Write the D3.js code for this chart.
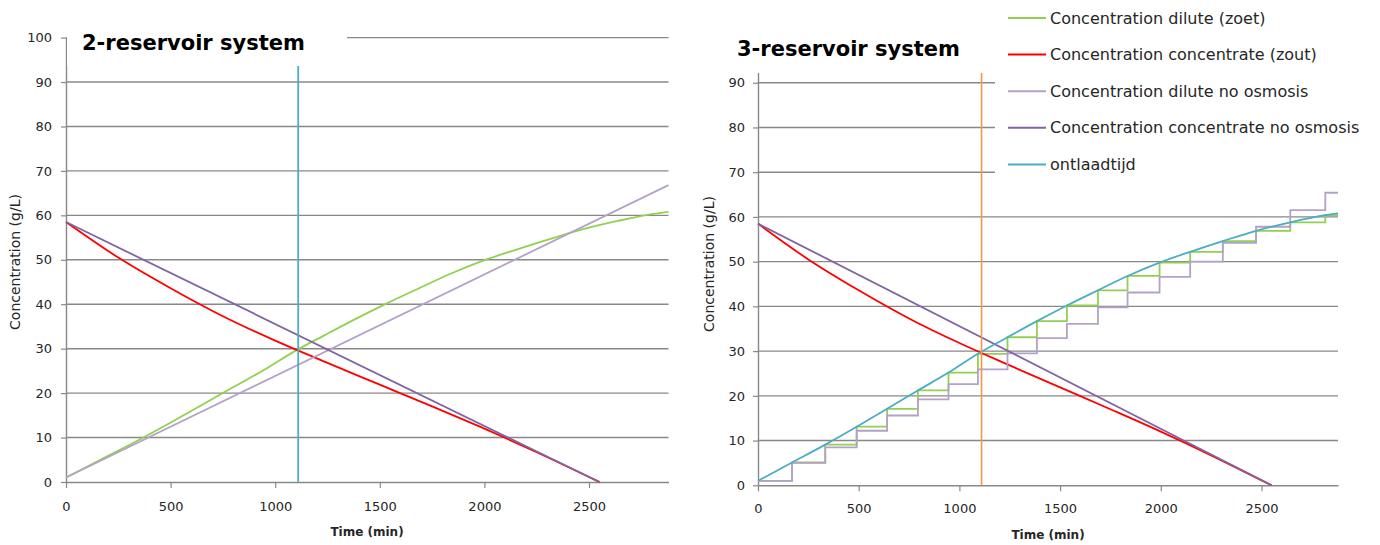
<!DOCTYPE html>
<html>
<head>
<meta charset="utf-8">
<script src="https://cdn.jsdelivr.net/npm/d3@7"></script>
<style>
  body { margin: 0; background: #fff; }
  svg { display: block; }
</style>
</head>
<body>
<div id="chart"></div>
<script>
// ticks
const xTicks = [0, 500, 1000, 1500, 2000, 2500];
const yTicks = [0, 10, 20, 30, 40, 50, 60, 70, 80, 90, 100];
const tMax = 2880;
const dischargeTime = 1110;

// concentrate with osmosis (red)
const concTime  = [0, 250, 500, 750, 1000, 1250, 1500, 1750, 2000, 2250, 2550];
const concValue = [58.5, 50.5, 43.6, 37.3, 31.8, 26.8, 21.9, 17.0, 12.0, 6.7, 0];

// concentrate no osmosis (dark purple)
const concNoOsmTime  = [0, 2550];
const concNoOsmValue = [58.5, 0];

// dilute no osmosis (light purple, 2-reservoir)
const dilNoOsmTime  = [0, 2880];
const dilNoOsmValue = [1.0, 66.8];

// dilute with osmosis, continuous (green left, teal right)
const dilTime  = [0, 169, 334, 490, 641, 794, 946, 1092, 1239, 1385, 1534, 1688, 1835, 1994, 2146, 2308, 2473, 2643, 2817, 2880];
const dilValue = [1.0, 5.1, 9.1, 13.1, 17.1, 21.2, 25.2, 29.4, 33.1, 36.7, 40.2, 43.6, 46.8, 49.8, 52.2, 54.6, 56.9, 58.8, 60.4, 60.8];

// 3-reservoir batches
const stepTime      = [0, 169, 334, 490, 641, 794, 946, 1092, 1239, 1385, 1534, 1688, 1835, 1994, 2146, 2308, 2473, 2643, 2817];
const stepDilute    = [1.0, 5.1, 9.1, 13.1, 17.1, 21.2, 25.2, 29.4, 33.1, 36.7, 40.2, 43.6, 46.8, 49.8, 52.2, 54.6, 56.9, 58.8, 60.4];
const stepDilNoOsm  = [1.0, 5.0, 8.5, 12.2, 15.6, 19.2, 22.6, 25.9, 29.5, 32.9, 36.1, 39.8, 43.1, 46.6, 50.0, 54.2, 57.8, 61.5, 65.4];

const legendLabels = [
  "Concentration dilute (zoet)",
  "Concentration concentrate (zout)",
  "Concentration dilute no osmosis",
  "Concentration concentrate no osmosis",
  "ontlaadtijd"
];
const titles = ["2-reservoir system", "3-reservoir system"];

const colors = {
  green: "#92d050", red: "#ff0000", lilac: "#b3a2c7",
  purple: "#8064a2", teal: "#4bacc6", orange: "#f79646",
  grid: "#888888", text: "#262626"
};
const legendColors = [colors.green, colors.red, colors.lilac, colors.purple, colors.teal];
const FONT = "'DejaVu Sans', sans-serif";

const svg = d3.select("#chart").append("svg")
  .attr("width", 1380).attr("height", 545)
  .attr("font-family", FONT);

const zip = (a, b) => a.map((t, i) => [t, b[i]]);

function panel(p) {
  const x = d3.scaleLinear().domain([0, tMax]).range([p.left, p.right]);
  const y = d3.scaleLinear().domain([0, 100]).range([p.bottom, p.top]);
  const g = svg.append("g");

  // horizontal gridlines
  g.append("g").selectAll("line")
    .data(p.yTicks.filter(d => d > 0))
    .join("line")
      .attr("x1", p.left).attr("x2", p.right)
      .attr("y1", d => y(d)).attr("y2", d => y(d))
      .attr("stroke", colors.grid).attr("stroke-width", 1.4);

  const styleAxis = ax => {
    ax.attr("font-family", FONT).attr("font-size", 13);
    ax.select(".domain").attr("stroke", colors.grid).attr("stroke-width", 1.4);
    ax.selectAll(".tick line").attr("stroke", colors.grid).attr("stroke-width", 1.2);
    ax.selectAll(".tick text").attr("fill", colors.text);
  };

  g.append("g")
    .attr("transform", `translate(${p.left},0)`)
    .call(d3.axisLeft(y).tickValues(p.yTicks).tickFormat(d3.format("d"))
      .tickSize(5).tickSizeOuter(0).tickPadding(p.yPad))
    .call(styleAxis);

  g.append("g")
    .attr("transform", `translate(0,${p.bottom})`)
    .call(d3.axisBottom(x).tickValues(xTicks).tickFormat(d3.format("d"))
      .tickSize(6).tickSizeOuter(0).tickPadding(p.xPad))
    .call(styleAxis);

  // axis titles
  g.append("text")
    .attr("transform", `translate(${p.yTitleX},${p.yTitleY}) rotate(-90)`)
    .attr("text-anchor", "middle")
    .attr("font-size", 14).attr("fill", colors.text)
    .text("Concentration (g/L)");

  g.append("text")
    .attr("x", p.xTitleX).attr("y", p.xTitleY)
    .attr("text-anchor", "middle")
    .attr("font-size", 12).attr("font-weight", "bold").attr("fill", colors.text)
    .text("Time (min)");

  const line = d3.line().x(d => x(d[0])).y(d => y(d[1]));
  const stepLine = d3.line().x(d => x(d[0])).y(d => y(d[1])).curve(d3.curveStepAfter);
  const smooth = d3.line().x(d => x(d[0])).y(d => y(d[1])).curve(d3.curveMonotoneX);
  return { x, y, g, line, stepLine, smooth };
}

const draw = (g, gen, data, color, w) =>
  g.append("path").datum(data).attr("d", gen)
    .attr("fill", "none").attr("stroke", color).attr("stroke-width", w || 1.8);

// ---- 2-reservoir ----
const L = panel({ left: 66, right: 668.5, bottom: 482, top: 37.6, yPad: 9, xPad: 14, yTicks: yTicks,
                  yTitleX: 20, yTitleY: 262, xTitleX: 367, xTitleY: 536 });
draw(L.g, L.smooth, zip(dilTime, dilValue), colors.green);
draw(L.g, L.smooth, zip(concTime, concValue), colors.red);
draw(L.g, L.line, zip(dilNoOsmTime, dilNoOsmValue), colors.lilac);
draw(L.g, L.line, zip(concNoOsmTime, concNoOsmValue), colors.purple);
L.g.append("line")
  .attr("x1", L.x(dischargeTime)).attr("x2", L.x(dischargeTime))
  .attr("y1", L.y(0)).attr("y2", L.y(100))
  .attr("stroke", colors.teal).attr("stroke-width", 1.8);

// ---- 3-reservoir (top of axis hidden behind title and legend) ----
const R = panel({ left: 758, right: 1338, bottom: 485.3, top: 38, yPad: 8, xPad: 12,
                  yTicks: yTicks.filter(d => d < 100),
                  yTitleX: 714, yTitleY: 264, xTitleX: 1048, xTitleY: 539 });
const ext = (t, v) => zip(t, v).concat([[tMax, v[v.length - 1]]]);
draw(R.g, R.stepLine, ext(stepTime, stepDilute), colors.green);
draw(R.g, R.smooth, zip(concTime, concValue), colors.red);
draw(R.g, R.stepLine, ext(stepTime, stepDilNoOsm), colors.lilac);
draw(R.g, R.line, zip(concNoOsmTime, concNoOsmValue), colors.purple);
draw(R.g, R.smooth, zip(dilTime, dilValue), colors.teal);
R.g.append("line")
  .attr("x1", R.x(dischargeTime)).attr("x2", R.x(dischargeTime))
  .attr("y1", R.y(0)).attr("y2", R.y(100))
  .attr("stroke", colors.orange).attr("stroke-width", 1.6);

// title boxes and legend box sit on top of the plots
svg.append("rect").attr("x", 67).attr("y", 0).attr("width", 280).attr("height", 66).attr("fill", "#fff");
svg.append("rect").attr("x", 715).attr("y", 0).attr("width", 280).attr("height", 73).attr("fill", "#fff");
svg.append("rect").attr("x", 995).attr("y", 0).attr("width", 385).attr("height", 186).attr("fill", "#fff");

svg.append("text").attr("x", 82).attr("y", 50)
  .attr("font-size", 21).attr("font-weight", "bold").attr("fill", "#000")
  .text(titles[0]);
svg.append("text").attr("x", 737).attr("y", 56)
  .attr("font-size", 21).attr("font-weight", "bold").attr("fill", "#000")
  .text(titles[1]);

// legend
const legend = svg.append("g").attr("transform", "translate(1008,18)");
const rows = legend.selectAll("g").data(legendLabels).join("g")
  .attr("transform", (d, i) => `translate(0,${i * 36.6})`);
rows.append("line")
  .attr("x1", 0).attr("x2", 38)
  .attr("stroke", (d, i) => legendColors[i]).attr("stroke-width", 2);
rows.append("text")
  .attr("x", 42).attr("dy", "0.35em")
  .attr("font-size", 16).attr("fill", colors.text)
  .text(d => d);
</script>
</body>
</html>
